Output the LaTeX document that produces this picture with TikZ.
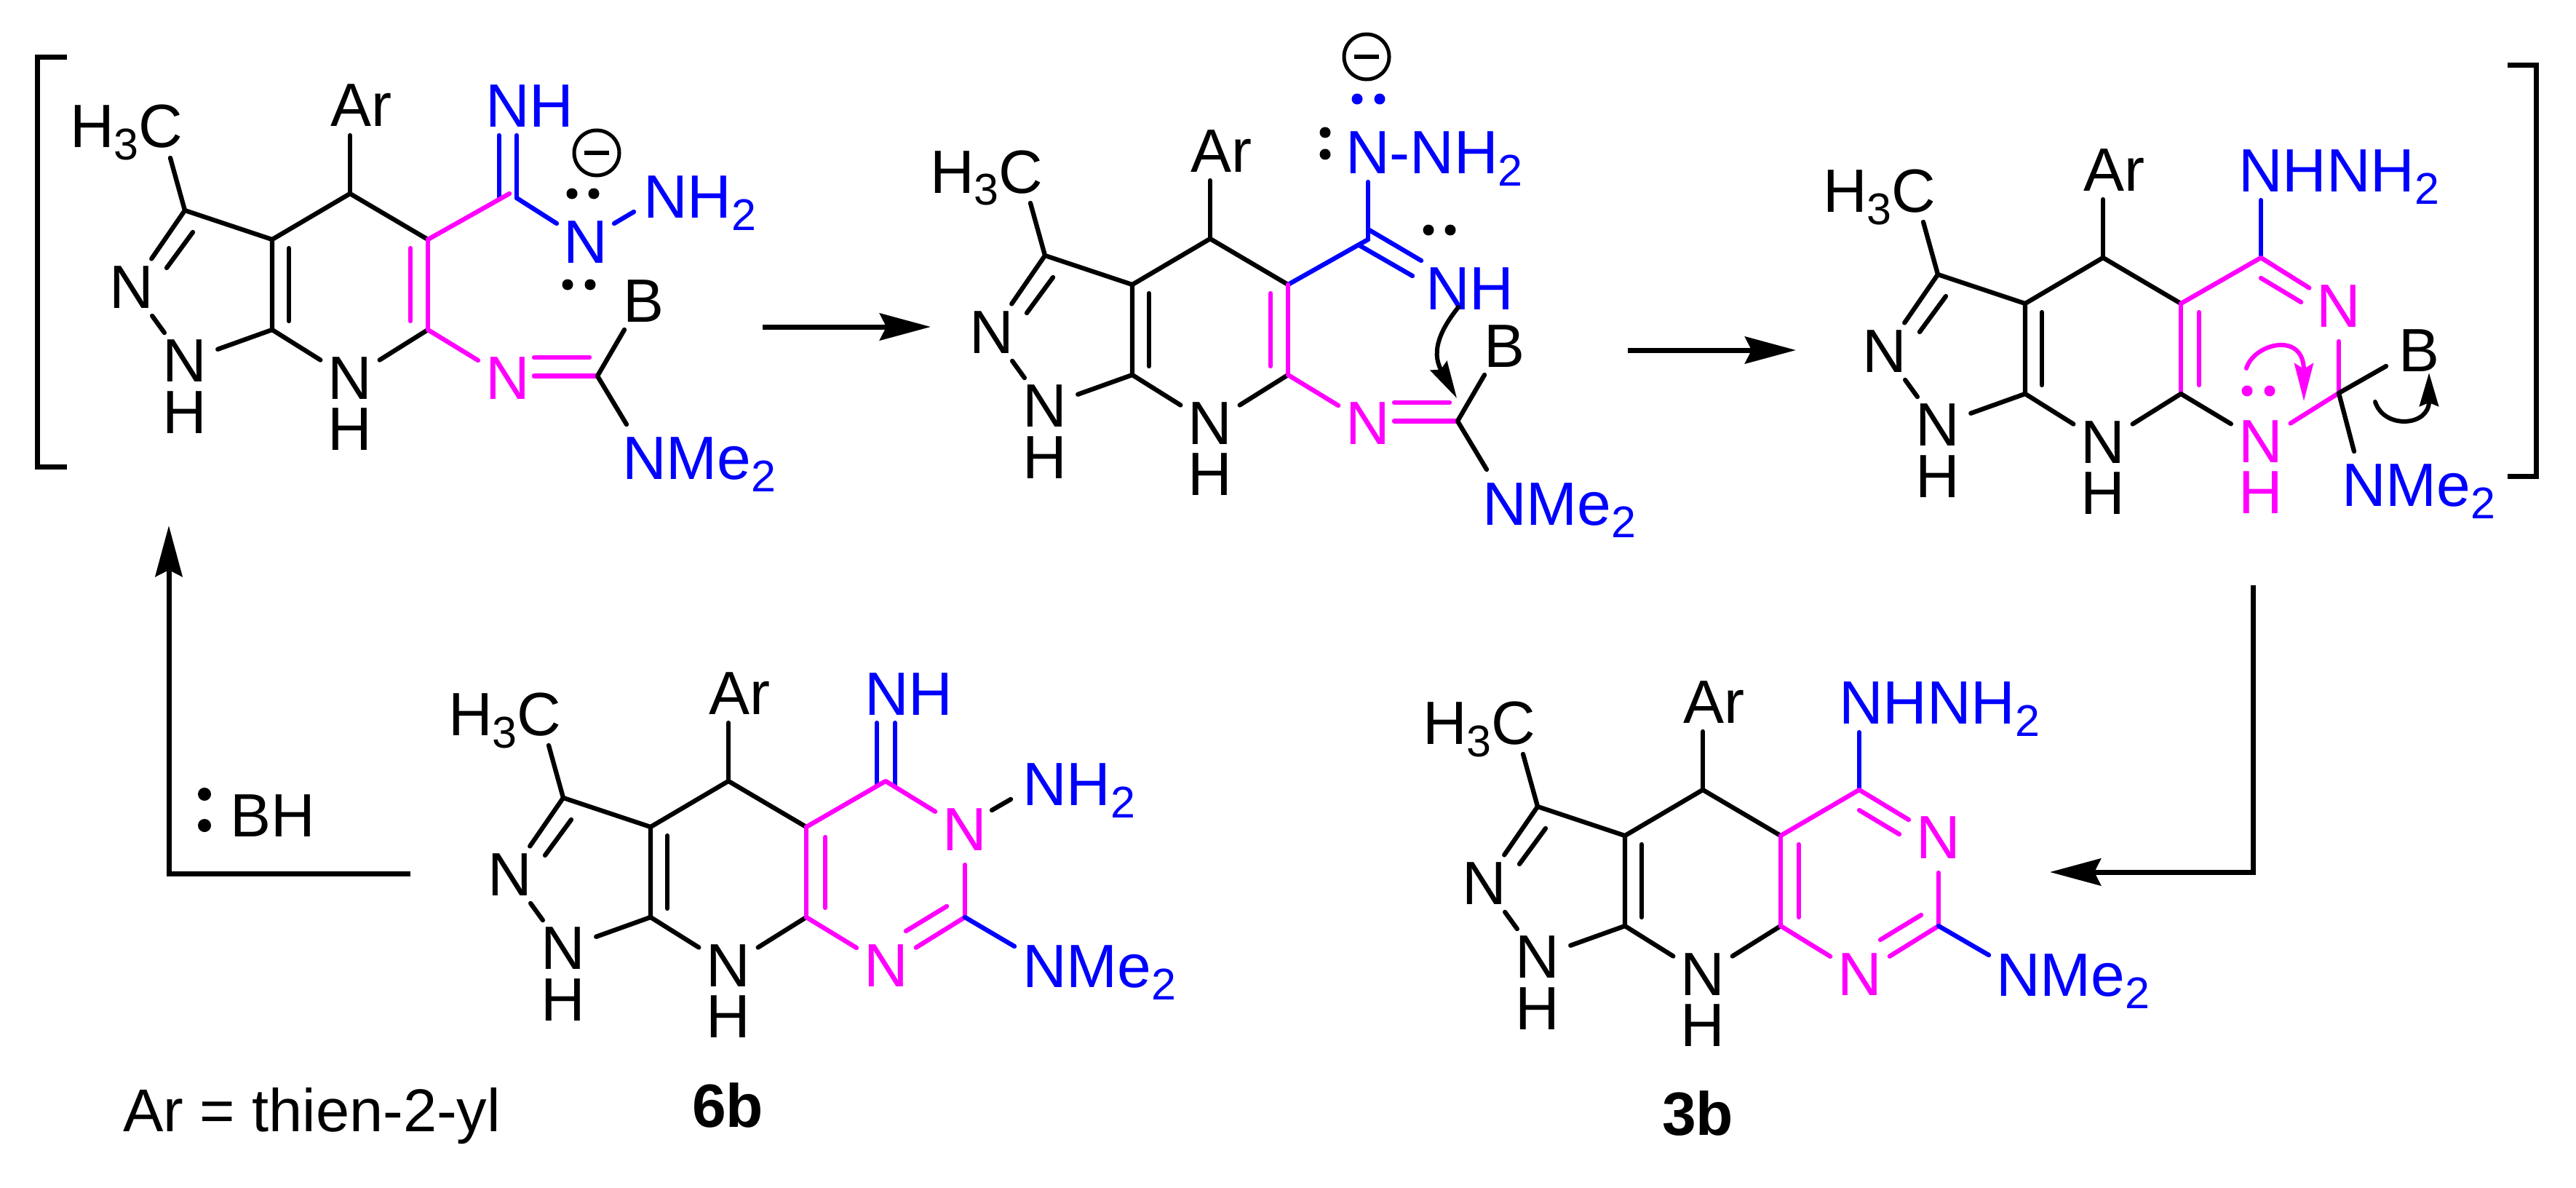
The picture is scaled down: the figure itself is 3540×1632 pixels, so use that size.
\documentclass[tikz,border=0pt]{standalone}
\usepackage{fontspec}
\setmainfont{Liberation Sans}
\usetikzlibrary{arrows.meta}
\definecolor{mag}{HTML}{FF00FF}
\definecolor{blu}{HTML}{0000FF}
\newcommand\lab{\fontsize{84}{84}\selectfont}
\newcommand\chemsub[1]{\raisebox{-17pt}{\fontsize{61}{61}\selectfont #1}}
\tikzset{
  bond/.style={line width=6.3pt,line cap=round,line join=round},
  mbond/.style={bond,draw=mag},
  bbond/.style={bond,draw=blu},
  atom/.style={circle,inner sep=0pt,outer sep=0pt,minimum size=96pt,font=\lab,text depth=0pt},
  txt/.style={inner sep=0pt,outer sep=0pt,font=\lab},
  head/.style={-{Stealth[length=70pt,width=37pt,inset=9pt]},line width=7pt},
  plainline/.style={line width=7pt,line cap=butt,line join=miter},
  curly/.style={line width=6pt,line cap=round}
}
\newcommand\lp[3][black]{\fill[#1] (#2,#3) circle[radius=7.5pt];}
% common tricyclic core; origin at C4
\newcommand\core{%
  \coordinate (C4) at (0,0);
  \coordinate (C3a) at (-107,63);
  \coordinate (C4a) at (107,63);
  \coordinate (C7a) at (-107,187);
  \coordinate (C8a) at (107,187);
  \coordinate (C3) at (-227,23);
  \coordinate (Me) at (-247,-49);
  \coordinate (Are) at (0,-80);
  \node[atom] (N2) at (-300,129) {N};
  \node[atom] (N1) at (-227,230) {N};
  \node[txt,anchor=base] (H1) at (-227,329) {H};
  \node[atom] (N7) at (0,254) {N};
  \node[txt,anchor=base] (H7) at (0,352) {H};
  \node[txt,anchor=base west] (MeL) at (-385,-63) {H\chemsub{3}C};
  \node[txt,anchor=base west] (ArL) at (-27,-92) {Ar};
  \draw[bond] (Me) -- (C3);
  \draw[bond] (Are) -- (C4);
  \draw[bond] (N2) -- (C3) -- (C3a) -- (C4) -- (C4a);
  \draw[bond] (C3a) -- (C7a) -- (N7);
  \draw[bond] (C7a) -- (N1);
  \draw[bond] (N1) -- (N2);
  \draw[bond] (C8a) -- (N7);
  \coordinate (i1) at (-216,53); \coordinate (i2) at (-252,102);
  \draw[bond] (i1) -- (i2);
  \coordinate (i3) at (-84,75); \coordinate (i4) at (-84,175);
  \draw[bond] (i3) -- (i4);
}
\begin{document}
\begin{tikzpicture}[x=1pt,y=-1pt]
\useasboundingbox (0,0) rectangle (3540,1632);
\fill[white] (0,0) rectangle (3540,1632);

% brackets
\coordinate (bl1) at (92,79); \coordinate (bl2) at (51,79);
\coordinate (bl3) at (51,641); \coordinate (bl4) at (92,641);
\draw[plainline] (bl1) -- (bl2) -- (bl3) -- (bl4);
\coordinate (br1) at (3446,90); \coordinate (br2) at (3485,90);
\coordinate (br3) at (3485,654); \coordinate (br4) at (3446,654);
\draw[plainline] (br1) -- (br2) -- (br3) -- (br4);

% reaction arrows
\coordinate (a1s) at (1048,449); \coordinate (a1e) at (1279,449);
\draw[head] (a1s) -- (a1e);
\coordinate (a2s) at (2237,481); \coordinate (a2e) at (2468,481);
\draw[head] (a2s) -- (a2e);
\coordinate (a3s) at (564,1200); \coordinate (a3c) at (232,1200); \coordinate (a3e) at (232,722);
\draw[head,line join=miter] (a3s) -- (a3c) -- (a3e);
\coordinate (a4s) at (3096,804); \coordinate (a4c) at (3096,1198); \coordinate (a4e) at (2817,1198);
\draw[head,line join=miter] (a4s) -- (a4c) -- (a4e);

% intermediate 1
\begin{scope}[shift={(481,266)},name prefix=a-]
  \core
  \coordinate (Cd) at (219,0);
  \coordinate (d1) at (205,-80); \coordinate (d1b) at (205,6);
  \coordinate (d2) at (229,-80); \coordinate (d2b) at (229,6);
  \draw[bbond] (d1) -- (d1b);
  \draw[bbond] (d2) -- (d2b);
  \node[txt,anchor=base west,text=blu] (NH) at (186,-91) {NH};
  \node[atom,text=blu] (Nan) at (324,67) {N};
  \coordinate (d3) at (284,41);
  \draw[bbond] (d2b) -- (d3);
  \coordinate (nn1) at (363,41); \coordinate (nn2) at (390,25);
  \draw[bbond] (nn1) -- (nn2);
  \node[txt,anchor=base west,text=blu] (NH2) at (403,33) {NH\chemsub{2}};
  \draw[mbond] (C4a) -- (Cd);
  \draw[mbond] (C4a) -- (C8a);
  \coordinate (m1) at (83,75); \coordinate (m2) at (83,175);
  \draw[mbond] (m1) -- (m2);
  \node[atom,text=mag] (Ni) at (217,254) {N};
  \draw[mbond] (C8a) -- (Ni);
  \coordinate (Cg) at (340,250.5);
  \coordinate (e1) at (253,225); \coordinate (e2) at (329,225); \coordinate (e3) at (253,250.5);
  \draw[mbond] (e1) -- (e2);
  \draw[mbond] (e3) -- (Cg);
  \coordinate (Be) at (377,187); \coordinate (Ne) at (380,317);
  \draw[bond] (Be) -- (Cg) -- (Ne);
  \node[txt,anchor=base,text=black] (B) at (404,176) {B};
  \node[txt,anchor=base west,text=blu] (NMe) at (374,392) {NMe\chemsub{2}};
  \lp{305}{0} \lp{335}{0} \lp{299}{125} \lp{330}{125}
  \node[circle,draw,line width=5pt,minimum size=62pt,inner sep=0pt] (chg) at (339,-56) {};
  \draw[line width=6pt] (chg) ++(-17,0) -- ++(34,0);
\end{scope}

% intermediate 2
\begin{scope}[shift={(1663,328)},name prefix=b-]
  \core
  \coordinate (Cd) at (217,1);
  \coordinate (up) at (217,-78);
  \draw[bbond] (up) -- (Cd);
  \draw[bbond] (C4a) -- (Cd);
  \coordinate (f1) at (217,-13); \coordinate (f2) at (290,30);
  \coordinate (f3) at (205,9); \coordinate (f4) at (278,51);
  \draw[bbond] (f1) -- (f2);
  \draw[bbond] (f3) -- (f4);
  \node[txt,anchor=base west,text=blu] (NN) at (186,-90) {N-NH\chemsub{2}};
  \node[txt,anchor=base west,text=blu] (NH) at (296,97) {NH};
  \draw[mbond] (C4a) -- (C8a);
  \coordinate (m1) at (83,75); \coordinate (m2) at (83,175);
  \draw[mbond] (m1) -- (m2);
  \node[atom,text=mag] (Ni) at (217,254) {N};
  \draw[mbond] (C8a) -- (Ni);
  \coordinate (Cg) at (340,250.5);
  \coordinate (e1) at (253,225); \coordinate (e2) at (329,225); \coordinate (e3) at (253,250.5);
  \draw[mbond] (e1) -- (e2);
  \draw[mbond] (e3) -- (Cg);
  \coordinate (Be) at (377,187); \coordinate (Ne) at (380,317);
  \draw[bond] (Be) -- (Cg) -- (Ne);
  \node[txt,anchor=base] (B) at (404,176) {B};
  \node[txt,anchor=base west,text=blu] (NMe) at (374,393) {NMe\chemsub{2}};
  \lp{300}{-12} \lp{330}{-12}
  \lp[blu]{202}{-192} \lp[blu]{233}{-192}
  \lp{158}{-146} \lp{158}{-116}
  \node[circle,draw,line width=5pt,minimum size=62pt,inner sep=0pt] (chg) at (215,-250) {};
  \draw[line width=6pt] (chg) ++(-17,0) -- ++(34,0);
  \coordinate (c1) at (341,94); \coordinate (c2) at (339,219);
  \draw[curly,-{Stealth[length=51pt,width=26pt,inset=6pt]}] (c1) .. controls (319,122) and (302,153) .. (c2);
\end{scope}

% intermediate 3
\begin{scope}[shift={(2890,354)},name prefix=c-]
  \core
  \coordinate (Cd) at (217,0);
  \coordinate (up) at (217,-79);
  \draw[bbond] (up) -- (Cd);
  \node[txt,anchor=base west,text=blu] (NN) at (186,-91) {NHNH\chemsub{2}};
  \node[atom,text=mag] (Nr) at (324,67) {N};
  \draw[mbond] (C4a) -- (Cd) -- (Nr);
  \coordinate (g1) at (217,28); \coordinate (g2) at (272,61);
  \draw[mbond] (g1) -- (g2);
  \draw[mbond] (C4a) -- (C8a);
  \coordinate (m1) at (132,75); \coordinate (m2) at (132,175);
  \draw[mbond] (m1) -- (m2);
  \coordinate (Cs) at (324,186);
  \draw[mbond] (Nr) -- (Cs);
  \node[atom,text=mag] (Nh) at (217,253) {N};
  \node[txt,anchor=base,text=mag] (Hh) at (217,351) {H};
  \draw[bond] (C8a) -- (Nh);
  \draw[mbond] (Cs) -- (Nh);
  \coordinate (Be) at (389,149); \coordinate (Ne) at (345,266);
  \draw[bond] (Be) -- (Cs) -- (Ne);
  \node[txt,anchor=base] (B) at (434,156) {B};
  \node[txt,anchor=base west,text=blu] (NMe) at (328,341) {NMe\chemsub{2}};
  \lp[mag]{198}{183} \lp[mag]{229}{183}
  \coordinate (c1) at (197,152); \coordinate (c2) at (276,197);
  \draw[curly,draw=mag,-{Stealth[length=52pt,width=26pt,inset=8pt,fill=mag]}] (c1) .. controls (207,118) and (276,100) .. (c2);
  \coordinate (c3) at (374,198); \coordinate (c4) at (448,158);
  \draw[curly,-{Stealth[length=46pt,width=26pt,inset=5pt]}] (c3) .. controls (386,236) and (448,232) .. (c4);
\end{scope}

% 6b
\begin{scope}[shift={(1001,1073)},name prefix=d-]
  \core
  \coordinate (Cd) at (216,0);
  \coordinate (d1) at (204,-80); \coordinate (d1b) at (204,6);
  \coordinate (d2) at (229,-80); \coordinate (d2b) at (229,6);
  \draw[bbond] (d1) -- (d1b);
  \draw[bbond] (d2) -- (d2b);
  \node[txt,anchor=base west,text=blu] (NH) at (187,-91) {NH};
  \node[atom,text=mag] (Nr) at (325,67) {N};
  \draw[mbond] (C4a) -- (Cd) -- (Nr);
  \draw[mbond] (C4a) -- (C8a);
  \coordinate (m1) at (133,77); \coordinate (m2) at (133,174);
  \draw[mbond] (m1) -- (m2);
  \coordinate (nn1) at (362,40); \coordinate (nn2) at (388,25);
  \draw[bond] (nn1) -- (nn2);
  \node[txt,anchor=base west,text=blu] (NH2) at (404,33) {NH\chemsub{2}};
  \coordinate (Ct) at (325,187);
  \draw[mbond] (Nr) -- (Ct);
  \node[atom,text=mag] (Nb) at (217,254) {N};
  \draw[mbond] (C8a) -- (Nb);
  \draw[mbond] (Ct) -- (Nb);
  \coordinate (g1) at (300,172); \coordinate (g2) at (244,206);
  \draw[mbond] (g1) -- (g2);
  \coordinate (Ne) at (393,227);
  \draw[bbond] (Ct) -- (Ne);
  \node[txt,anchor=base west,text=blu] (NMe) at (404,283) {NMe\chemsub{2}};
\end{scope}

% 3b
\begin{scope}[shift={(2340,1085)},name prefix=e-]
  \core
  \coordinate (Cd) at (215,0);
  \coordinate (up) at (215,-79);
  \draw[bbond] (up) -- (Cd);
  \node[txt,anchor=base west,text=blu] (NN) at (187,-91) {NHNH\chemsub{2}};
  \node[atom,text=mag] (Nr) at (324,66) {N};
  \draw[mbond] (C4a) -- (Cd) -- (Nr);
  \coordinate (g1) at (215,28); \coordinate (g2) at (270,61);
  \draw[mbond] (g1) -- (g2);
  \draw[mbond] (C4a) -- (C8a);
  \coordinate (m1) at (132,75); \coordinate (m2) at (132,175);
  \draw[mbond] (m1) -- (m2);
  \coordinate (Ct) at (324,187);
  \draw[mbond] (Nr) -- (Ct);
  \node[atom,text=mag] (Nb) at (216,254) {N};
  \draw[mbond] (C8a) -- (Nb);
  \draw[mbond] (Ct) -- (Nb);
  \coordinate (g3) at (300,172); \coordinate (g4) at (244,206);
  \draw[mbond] (g3) -- (g4);
  \coordinate (Ne) at (393,227);
  \draw[bbond] (Ct) -- (Ne);
  \node[txt,anchor=base west,text=blu] (NMe) at (403,283) {NMe\chemsub{2}};
\end{scope}

% free texts
\node[txt,anchor=base west] (BH) at (316,1149) {BH};
\fill (281,1091) circle[radius=9pt];
\fill (281,1134) circle[radius=9pt];
\node[txt,anchor=base west,font=\fontsize{83}{83}\selectfont] (def) at (169,1554) {Ar = thien-2-yl};
\node[txt,anchor=base,font=\lab\bfseries] (l6b) at (1000,1548) {6b};
\node[txt,anchor=base,font=\lab\bfseries] (l3b) at (2333,1559) {3b};
\end{tikzpicture}
\end{document}
